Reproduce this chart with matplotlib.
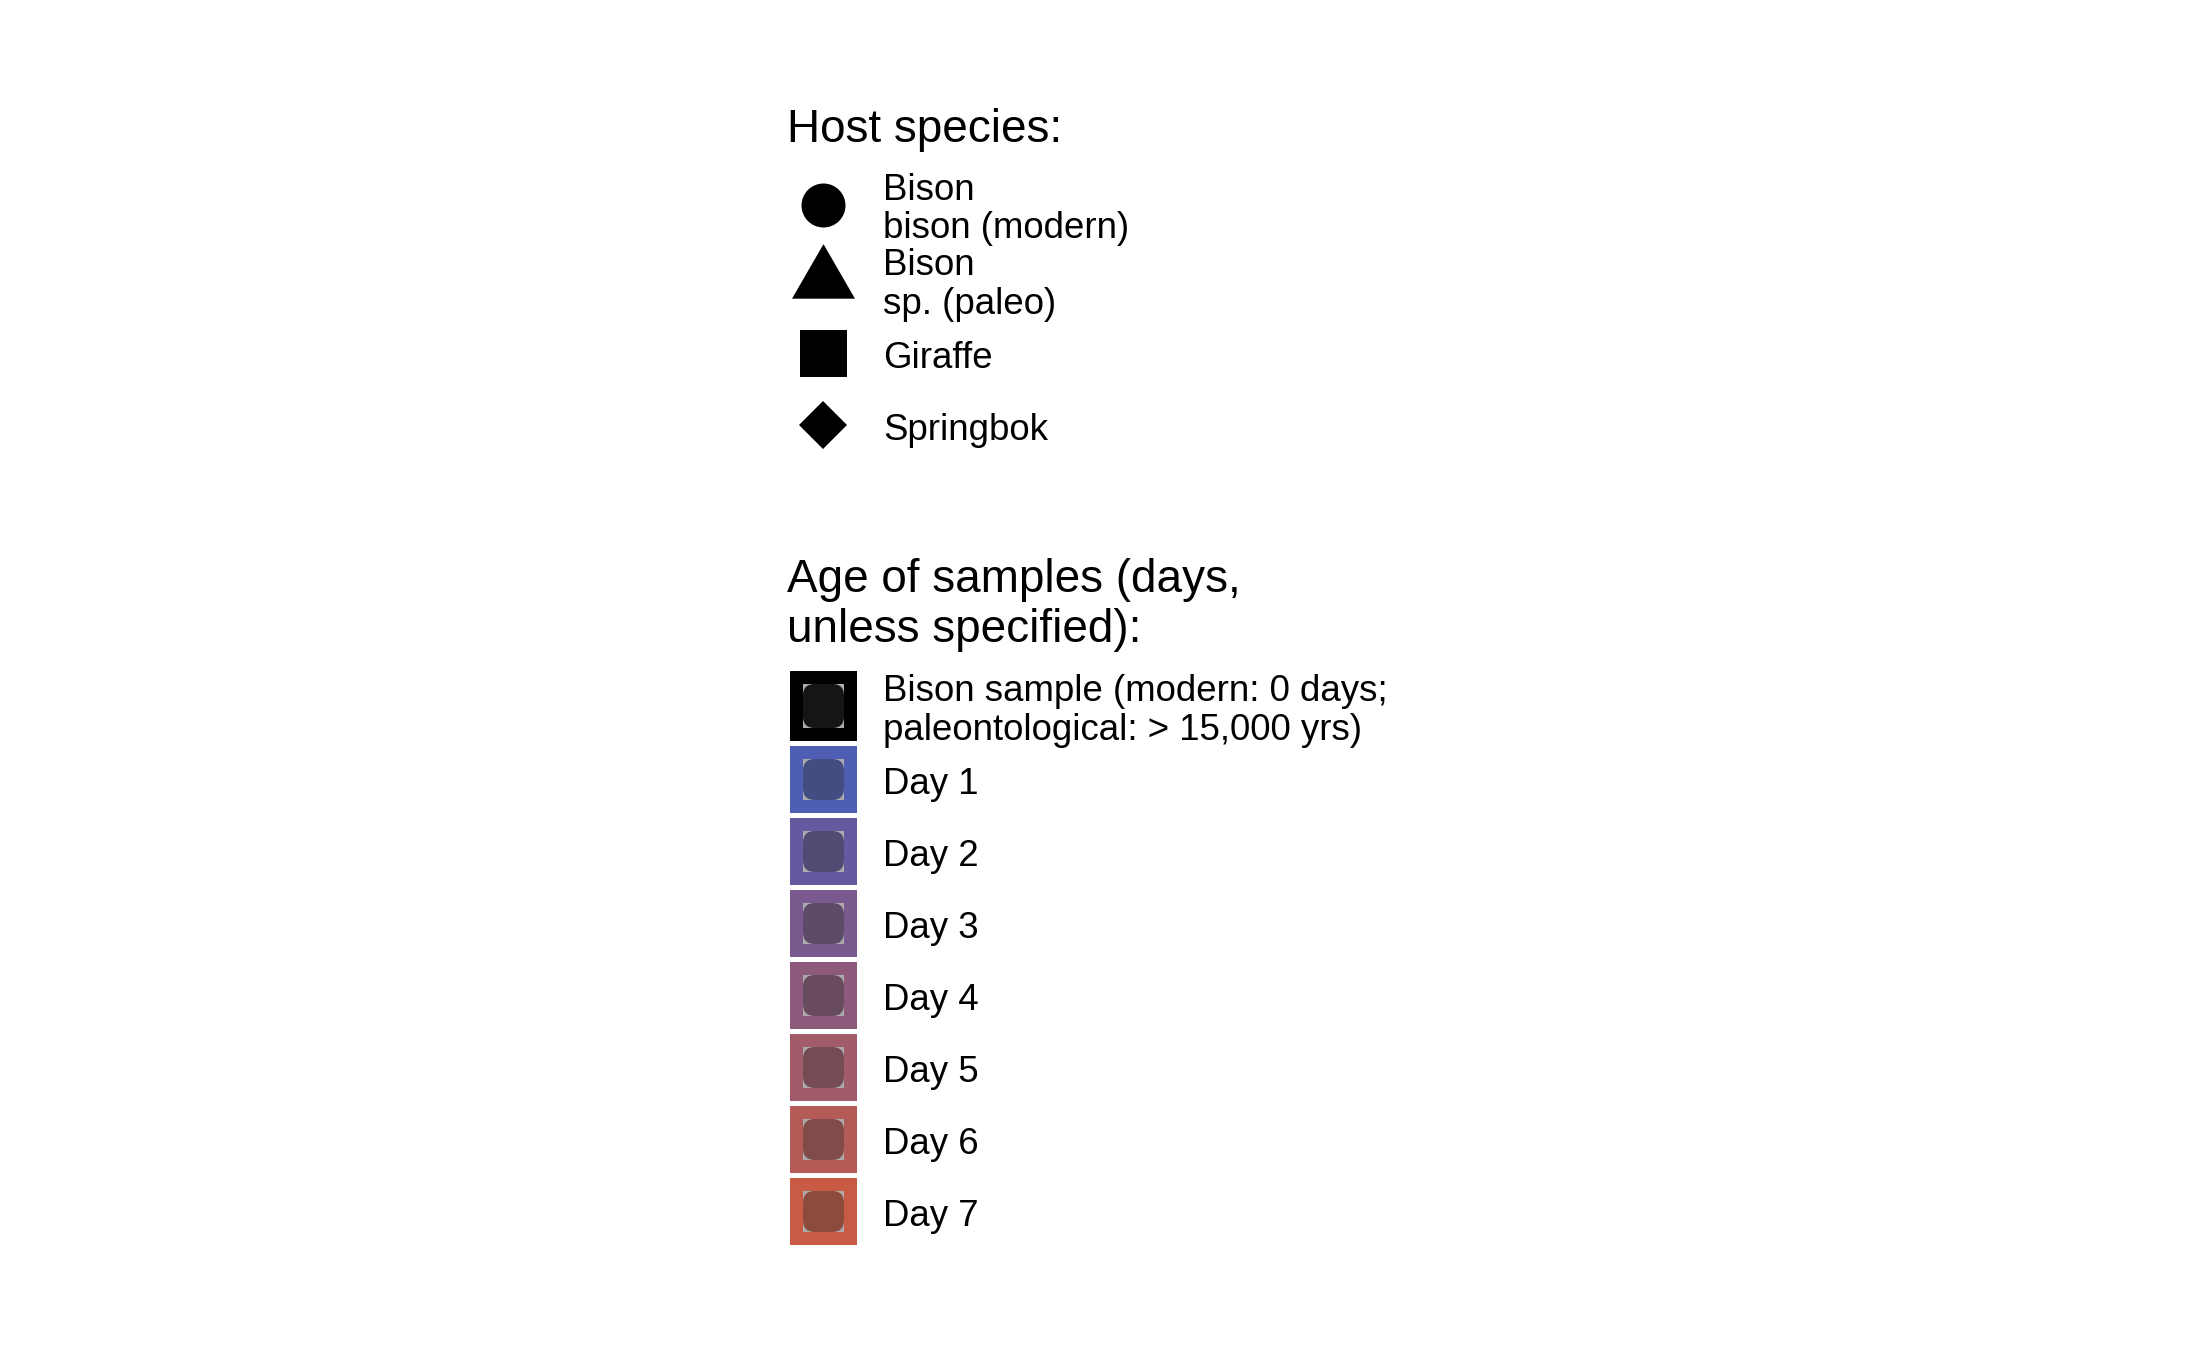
import matplotlib.pyplot as plt
from matplotlib.patches import Rectangle, FancyBboxPatch

# legend contents
host_title = 'Host species:'
host_labels = ['Bison\nbison (modern)', 'Bison\nsp. (paleo)', 'Giraffe', 'Springbok']
age_title = 'Age of samples (days,\nunless specified):'
age_labels = ['Bison sample (modern: 0 days;\npaleontological: > 15,000 yrs)',
              'Day 1', 'Day 2', 'Day 3', 'Day 4', 'Day 5', 'Day 6', 'Day 7']
age_colors = ['#000000', '#4E5EB4', '#655A9F', '#7A5A8E', '#8D5A7C',
              '#A15B69', '#B45A57', '#C95B45']

tri = [(0, 1), (-0.866, -0.5), (0.866, -0.5)]
host_markers = [('o', 10.56), (tri, 17.45), ('s', 11.28), ('D', 7.98)]

plt.rcParams['font.family'] = ['Liberation Sans', 'DejaVu Sans']

fig = plt.figure(figsize=(7.29, 4.5), dpi=300)
ax = fig.add_axes([0, 0, 1, 1])
ax.set_xlim(0, 2187)
ax.set_ylim(1350, 0)
ax.axis('off')

title_x = 787
key_x = 823
label_x = 883
gap = 39


def put_label(txt, yc):
    lines = txt.split('\n')
    y0 = yc + 14.5 - (len(lines) - 1) * gap / 2
    for i, l in enumerate(lines):
        ax.text(label_x, y0 + i * gap, l, fontsize=8.8, va='baseline', ha='left')


def put_title(txt, y0):
    for i, l in enumerate(txt.split('\n')):
        ax.text(title_x, y0 + i * 50, l, fontsize=11, va='baseline', ha='left')


# host species legend
put_title(host_title, 142)
rows = [77, 74, 72, 72]
y = 166
for lab, (m, ms), h in zip(host_labels, host_markers, rows):
    yc = y + h / 2
    ax.plot([key_x], [yc], marker=m, markersize=ms, color='black',
            markeredgewidth=0, linestyle='none')
    put_label(lab, yc)
    y += h

# age legend
put_title(age_title, 592)
y = 671
for i, (lab, col) in enumerate(zip(age_labels, age_colors)):
    h = 75 if i == 0 else 72
    kh = h - 5
    ax.add_patch(Rectangle((790, y), 67, kh, facecolor=col, edgecolor='none'))
    ax.add_patch(Rectangle((803, y + 13), 41, kh - 26, facecolor='#ABABAB', edgecolor='none'))
    for fc, a in [(col, 1), ('#353535', 0.4)]:
        ax.add_patch(FancyBboxPatch((803, y + 13), 41, kh - 26,
                                    boxstyle='round,pad=0,rounding_size=12',
                                    facecolor=fc, edgecolor='none', alpha=a))
    put_label(lab, y + kh / 2)
    y += h

fig.savefig('out.png', dpi=300, facecolor='white')
